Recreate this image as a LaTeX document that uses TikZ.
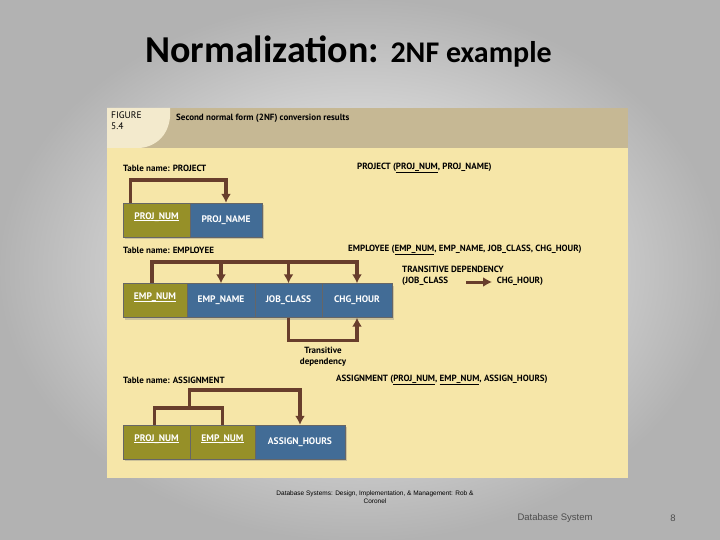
\documentclass[tikz,border=0pt]{standalone}
\usepackage{fontspec}
\setmainfont{Carlito}
\newfontfamily\figfont{PT Sans}
\newfontfamily\footfont{Liberation Sans}
\usetikzlibrary{shadows,arrows.meta}
\definecolor{olivebox}{RGB}{150,144,40}
\definecolor{bluebox}{RGB}{66,108,150}
\definecolor{panel}{RGB}{246,230,168}
\definecolor{band}{RGB}{198,184,148}
\definecolor{tab}{RGB}{243,234,205}
\definecolor{arrowbrown}{RGB}{104,62,44}
\tikzset{
  keybox/.style={draw=black!60, fill=olivebox, text=white, minimum height=34pt, inner sep=0pt, drop shadow={opacity=0.35}, font=\figfont\bfseries\fontsize{9.5}{11}\selectfont},
  attbox/.style={keybox, fill=bluebox},
  dep/.style={draw=arrowbrown, line width=3.5pt, -{Latex[length=9pt,width=10pt]}},
  link/.style={draw=arrowbrown, line width=3.5pt},
  lbl/.style={anchor=west, inner sep=0pt, font=\figfont\bfseries\fontsize{9}{11}\selectfont}
}
\newcommand{\wul}[1]{\underline{\smash{#1}}}
\begin{document}
\begin{tikzpicture}[x=1pt,y=-1pt]
\useasboundingbox (0,0) rectangle (720,540);
\shade[inner color=white, outer color=black!30] (0,0) rectangle (720,540);

\node[font=\bfseries, anchor=west, inner sep=0pt] (title) at (145,52) {\fontsize{38}{40}\selectfont Normalization: \fontsize{30}{34}\selectfont 2NF example};

% figure panel
\fill[panel] (107,108) rectangle (628,478);
\fill[band] (107,108) rectangle (628,148);
\fill[tab] (107,108) -- (170,108) .. controls (172,130) and (160,146) .. (140,148) -- (107,148) -- cycle;
\node[lbl, anchor=north west, align=left, font=\figfont\fontsize{9.5}{11}\selectfont] (fig) at (111,112) {FIGURE\\5.4};
\node[lbl] (cap) at (176,118) {Second normal form (2NF) conversion results};

% PROJECT
\node[lbl] (tp) at (123,168) {Table name: PROJECT};
\node[lbl] (rp) at (357,168) {PROJECT (\underline{PROJ\_NUM}, PROJ\_NAME)};
\node[keybox, minimum width=67pt] (pn) at (156.5,220) {\wul{PROJ\_NUM}};
\node[attbox, minimum width=72pt] (pname) at (226,220) {PROJ\_NAME};
\draw[dep] ([xshift=-26pt]pn.north) -- ++(0,-23) -| (pname.north);

% EMPLOYEE
\node[lbl] (te) at (123,250) {Table name: EMPLOYEE};
\node[lbl] (re) at (348,250) {EMPLOYEE (\underline{EMP\_NUM}, EMP\_NAME, JOB\_CLASS, CHG\_HOUR)};
\node[lbl, align=left] (td) at (402,276) {TRANSITIVE DEPENDENCY\\(JOB\_CLASS \hspace{44pt} CHG\_HOUR)};
\coordinate (tda) at (466,282);
\coordinate (tdb) at (492,282);
\draw[dep, line width=3pt] (tda) -- (tdb);
\node[keybox, minimum width=64pt] (en) at (155,300.5) {\wul{EMP\_NUM}};
\node[attbox, minimum width=68pt] (ename) at (221,300.5) {EMP\_NAME};
\node[attbox, minimum width=67pt] (jc) at (288.5,300.5) {JOB\_CLASS};
\node[attbox, minimum width=70pt] (ch) at (357,300.5) {CHG\_HOUR};
\coordinate (etop) at (0,262);
\draw[dep] ([xshift=-3pt]en.north) |- (etop -| ch.north) -- (ch.north);
\draw[dep] (ename.north |- etop) -- (ename.north);
\draw[dep] (jc.north |- etop) -- (jc.north);
\draw[dep] (jc.south) -- ++(0,23) -| (ch.south);
\node[lbl, anchor=center, align=center] (tr) at (323,357) {Transitive\\dependency};

% ASSIGNMENT
\node[lbl] (ta) at (123,380) {Table name: ASSIGNMENT};
\node[lbl] (ra) at (336,380) {ASSIGNMENT (\underline{PROJ\_NUM}, \underline{EMP\_NUM}, ASSIGN\_HOURS)};
\node[keybox, minimum width=67pt] (ap) at (156.5,442) {\wul{PROJ\_NUM}};
\node[keybox, minimum width=65pt] (ae) at (222.5,442) {\wul{EMP\_NUM}};
\node[attbox, minimum width=90pt] (ah) at (300,442) {ASSIGN\_HOURS};
\draw[link] ([xshift=-2pt]ap.north) -- ++(0,-17) -| (ae.north);
\coordinate (amid) at (189.5,408);
\draw[dep] (amid) -- ++(0,-18) -| (ah.north);

% footer
\node[font=\footfont\fontsize{6.5}{8}\selectfont, align=center] (src) at (375,497) {Database Systems: Design, Implementation, \& Management: Rob \&\\Coronel};
\node[font=\footfont\fontsize{9.5}{11}\selectfont, text=black!70] (ds) at (555,518) {Database System};
\node[font=\footfont\fontsize{9.5}{11}\selectfont, text=black!70] (pg) at (673,518) {8};
\end{tikzpicture}
\end{document}
